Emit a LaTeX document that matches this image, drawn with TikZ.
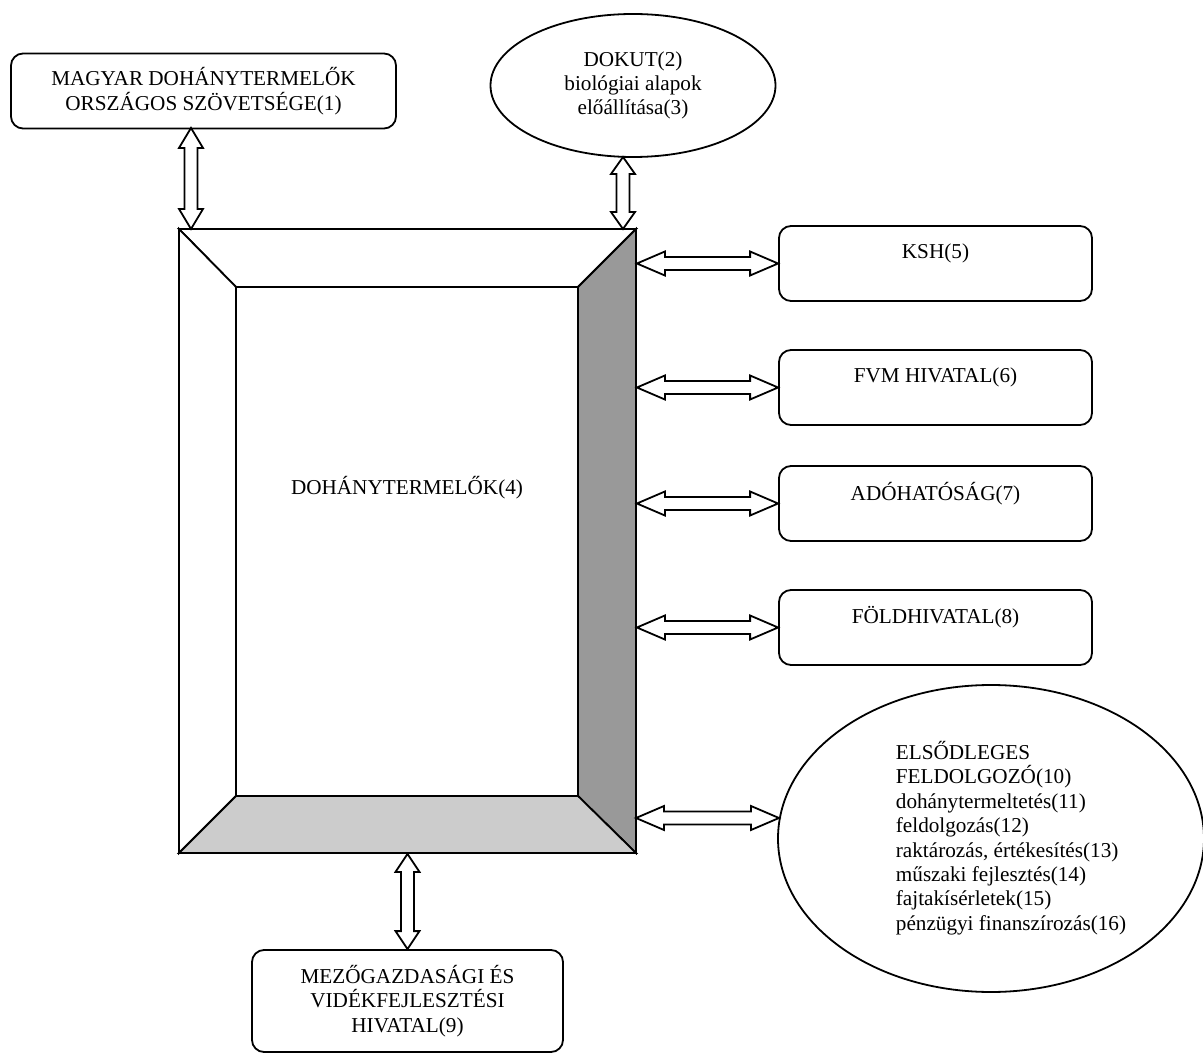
\documentclass[tikz,border=0pt]{standalone}
\usepackage{fontspec}
\setmainfont{Liberation Serif}
\usetikzlibrary{calc,shapes.geometric}
\newcommand{\DArrow}[3]{%
  \draw[darr] (#1)
   -- ($(#1)!#3!(#2)!12pt!90:(#2)$)
   -- ($(#1)!#3!(#2)!6.5pt!90:(#2)$)
   -- ($(#2)!#3!(#1)!6.5pt!-90:(#1)$)
   -- ($(#2)!#3!(#1)!12pt!-90:(#1)$)
   -- (#2)
   -- ($(#2)!#3!(#1)!12pt!90:(#1)$)
   -- ($(#2)!#3!(#1)!6.5pt!90:(#1)$)
   -- ($(#1)!#3!(#2)!6.5pt!-90:(#2)$)
   -- ($(#1)!#3!(#2)!12pt!-90:(#2)$)
   -- cycle;}
\definecolor{darkbevel}{HTML}{999999}
\definecolor{lightbevel}{HTML}{CCCCCC}
\begin{document}
\begin{tikzpicture}[x=1pt,y=-1pt,line width=1.8pt,line join=miter,
  every node/.style={font=\fontsize{21.2}{24.4}\selectfont},
  rbox/.style={draw,line width=1.8pt,rounded corners=12pt,align=center,inner sep=0pt},
  oval/.style={draw,line width=1.8pt,ellipse,align=center,inner sep=0pt},
  darr/.style={draw=black,fill=white,line width=1.8pt,line join=miter},
  bevel/.style={draw=black,line width=1.8pt,line join=miter}]
\useasboundingbox (0,0) rectangle (1203,1056);

% central bevelled frame
\node[inner sep=0pt,minimum width=457pt,minimum height=624pt] (frame) at (407.5,541) {};
\draw[bevel,fill=white] (179,229) -- (636,229) -- (578,287) -- (236,287) -- cycle;
\draw[bevel,fill=white] (179,229) -- (236,287) -- (236,796) -- (179,853) -- cycle;
\draw[bevel,fill=darkbevel] (636,229) -- (636,853) -- (578,796) -- (578,287) -- cycle;
\draw[bevel,fill=lightbevel] (179,853) -- (636,853) -- (578,796) -- (236,796) -- cycle;
\draw[bevel,fill=white] (236,287) rectangle (578,796);
\node (farmers) at (407,488) {DOHÁNYTERMELŐK(4)};

% top left box
\node[rbox,minimum width=385pt,minimum height=75pt] (mdosz) at (203.5,91)
  {MAGYAR DOHÁNYTERMELŐK\\ORSZÁGOS SZÖVETSÉGE(1)};

% DOKUT ellipse
\node[oval,minimum width=285pt,minimum height=143pt] (dokut) at (633,85.5)
  {DOKUT(2)\\biológiai alapok\\előállítása(3)};

% right boxes
\node[rbox,minimum width=313pt,minimum height=75pt] (ksh) at (935.5,263.5) {KSH(5)\\\mbox{}};
\node[rbox,minimum width=313pt,minimum height=75pt] (fvm) at (935.5,387.5) {FVM HIVATAL(6)\\\mbox{}};
\node[rbox,minimum width=313pt,minimum height=75pt] (ado) at (935.5,503.5) {ADÓHATÓSÁG(7)\\\mbox{}};
\node[rbox,minimum width=313pt,minimum height=75pt] (fold) at (935.5,627.5) {FÖLDHIVATAL(8)\\\mbox{}};

% big ellipse
\node[oval,minimum width=426pt,minimum height=307pt] (proc) at (991,838.5) {};
\node[align=left,anchor=west,inner sep=0pt] (proctext) at (895,838)
  {ELSŐDLEGES\\FELDOLGOZÓ(10)\\dohánytermeltetés(11)\\feldolgozás(12)\\raktározás, értékesítés(13)\\műszaki fejlesztés(14)\\fajtakísérletek(15)\\pénzügyi finanszírozás(16)};

% bottom box
\node[rbox,minimum width=311pt,minimum height=102pt] (mvh) at (407.5,1001)
  {MEZŐGAZDASÁGI ÉS\\VIDÉKFEJLESZTÉSI\\HIVATAL(9)};

% connector end points
\coordinate (a1s) at (191,128);
\coordinate (a1e) at (191,229);
\coordinate (a2s) at (623,157);
\coordinate (a2e) at (623,229);
\coordinate (k1) at (frame.east |- ksh.west);
\coordinate (k2) at (frame.east |- fvm.west);
\coordinate (k3) at (frame.east |- ado.west);
\coordinate (k4) at (frame.east |- fold.west);
\coordinate (k5) at (636,818);
\coordinate (k5e) at (779,818);

% double arrows
\DArrow{a1s}{a1e}{20pt}
\DArrow{a2s}{a2e}{17pt}
\DArrow{k1}{ksh.west}{28pt}
\DArrow{k2}{fvm.west}{28pt}
\DArrow{k3}{ado.west}{28pt}
\DArrow{k4}{fold.west}{28pt}
\DArrow{k5}{k5e}{28pt}
\DArrow{frame.south}{mvh.north}{18pt}
\end{tikzpicture}
\end{document}
